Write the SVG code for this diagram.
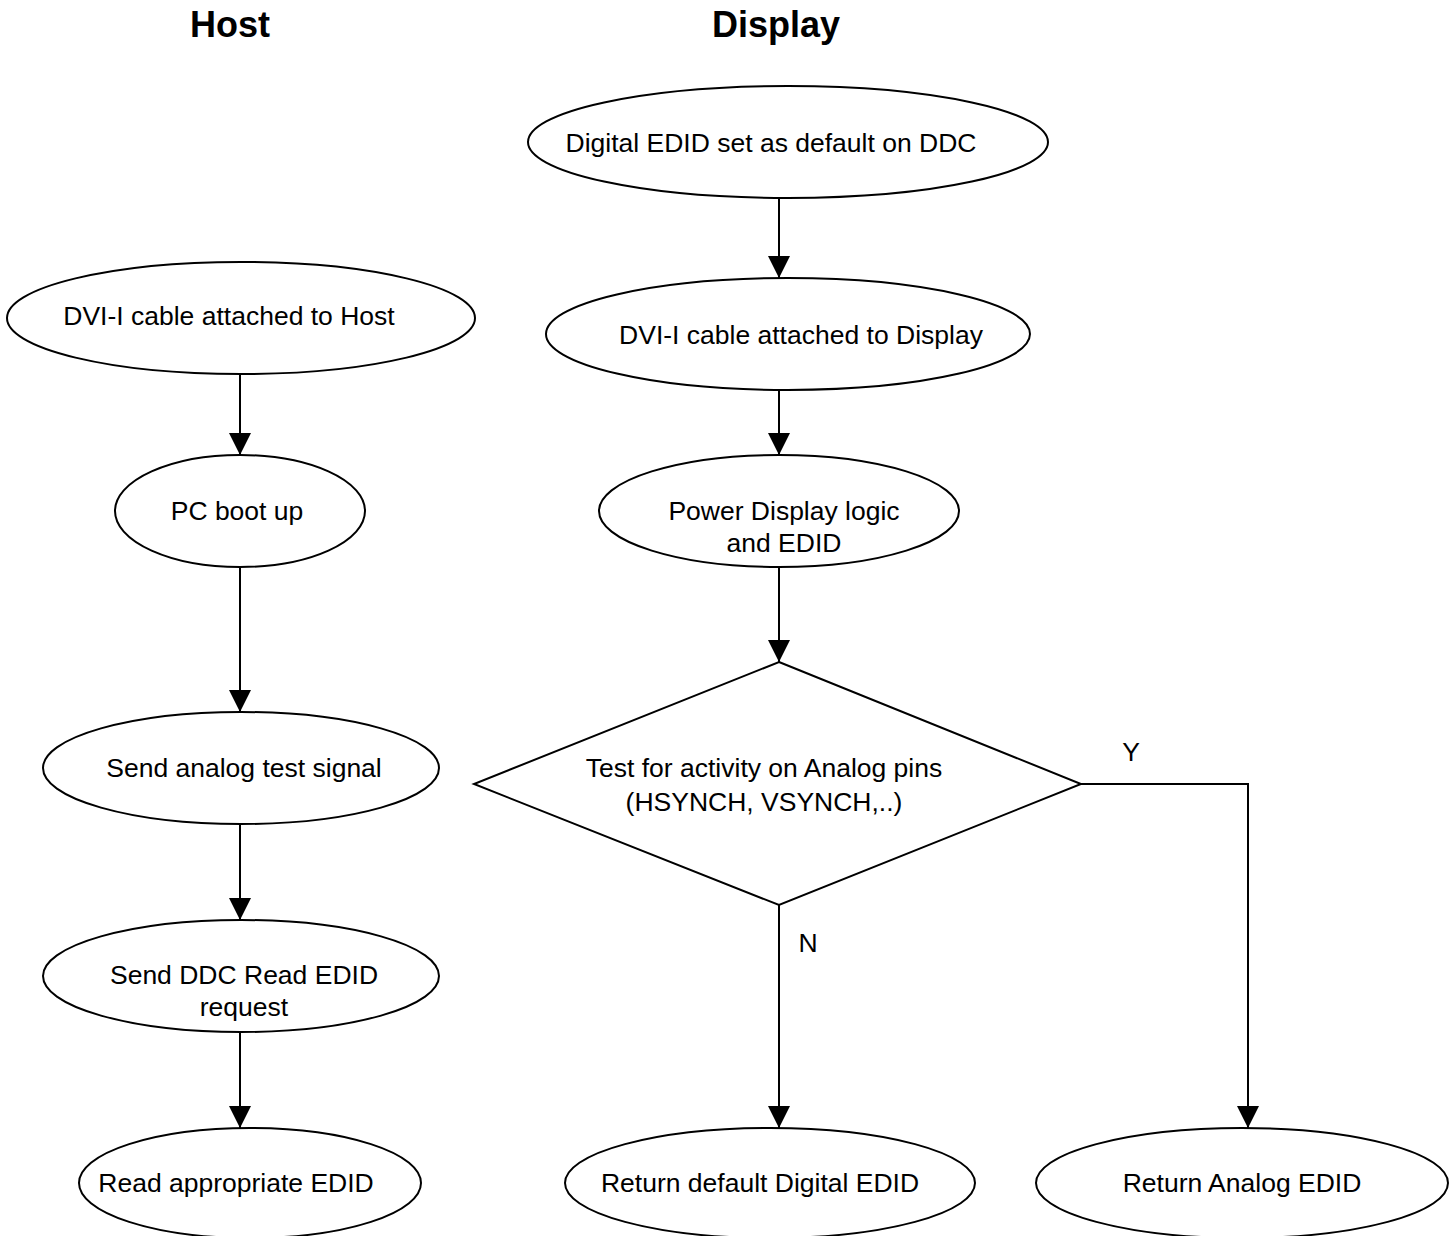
<svg xmlns="http://www.w3.org/2000/svg" width="1455" height="1236" viewBox="0 0 1455 1236">
<defs>
<style>
.n{fill:#fff;stroke:#000;stroke-width:2}
.t{font-family:"Liberation Sans",Arial,sans-serif;font-size:26.5px;fill:#000;text-anchor:middle}
.h{font-family:"Liberation Sans",Arial,sans-serif;font-size:36px;font-weight:bold;fill:#000;text-anchor:middle}
.c{fill:none;stroke:#000;stroke-width:2}
</style>
<marker id="ah" markerUnits="userSpaceOnUse" markerWidth="22" markerHeight="22" refX="20" refY="10" orient="auto" viewBox="0 0 20 20">
<path d="M0,0 L20,10 L0,20 z" fill="#000"/>
</marker>
</defs>
<rect width="1455" height="1236" fill="#fff"/>
<text class="h" x="230" y="37">Host</text>
<text class="h" x="776" y="37">Display</text>
<g id="connectors">
<line class="c" x1="240" y1="374" x2="240" y2="455" marker-end="url(#ah)"/>
<line class="c" x1="240" y1="567" x2="240" y2="712" marker-end="url(#ah)"/>
<line class="c" x1="240" y1="824" x2="240" y2="920" marker-end="url(#ah)"/>
<line class="c" x1="240" y1="1032" x2="240" y2="1128" marker-end="url(#ah)"/>
<line class="c" x1="779" y1="198" x2="779" y2="278" marker-end="url(#ah)"/>
<line class="c" x1="779" y1="390" x2="779" y2="455" marker-end="url(#ah)"/>
<line class="c" x1="779" y1="567" x2="779" y2="662" marker-end="url(#ah)"/>
<line class="c" x1="779" y1="905" x2="779" y2="1128" marker-end="url(#ah)"/>
<polyline class="c" points="1081,784 1248,784 1248,1128" marker-end="url(#ah)"/>
<text class="t" x="1131" y="761">Y</text>
<text class="t" x="808" y="952">N</text>
</g>
<g id="digital-default">
<ellipse class="n" cx="788" cy="142" rx="260" ry="56"/>
<text class="t" x="771" y="152">Digital EDID set as default on DDC</text>
</g>
<g id="host-cable">
<ellipse class="n" cx="241" cy="318" rx="234" ry="56"/>
<text class="t" x="229" y="325">DVI-I cable attached to Host</text>
</g>
<g id="display-cable">
<ellipse class="n" cx="788" cy="334" rx="242" ry="56"/>
<text class="t" x="801" y="344">DVI-I cable attached to Display</text>
</g>
<g id="pc-boot">
<ellipse class="n" cx="240" cy="511" rx="125" ry="56"/>
<text class="t" x="237" y="520">PC boot up</text>
</g>
<g id="power-display">
<ellipse class="n" cx="779" cy="511" rx="180" ry="56"/>
<text class="t" x="784" y="520">Power Display logic</text>
<text class="t" x="784" y="552">and EDID</text>
</g>
<g id="test-analog">
<polygon class="n" points="779,662 1081,784 779,905 474,784"/>
<text class="t" x="764" y="777">Test for activity on Analog pins</text>
<text class="t" x="764" y="811">(HSYNCH, VSYNCH,..)</text>
</g>
<g id="send-analog">
<ellipse class="n" cx="241" cy="768" rx="198" ry="56"/>
<text class="t" x="244" y="777">Send analog test signal</text>
</g>
<g id="send-ddc">
<ellipse class="n" cx="241" cy="976" rx="198" ry="56"/>
<text class="t" x="244" y="984">Send DDC Read EDID</text>
<text class="t" x="244" y="1016">request</text>
</g>
<g id="read-edid">
<ellipse class="n" cx="250" cy="1183" rx="171" ry="55"/>
<text class="t" x="236" y="1192">Read appropriate EDID</text>
</g>
<g id="return-digital">
<ellipse class="n" cx="770" cy="1183" rx="205" ry="55"/>
<text class="t" x="760" y="1192">Return default Digital EDID</text>
</g>
<g id="return-analog">
<ellipse class="n" cx="1242" cy="1183" rx="206" ry="55"/>
<text class="t" x="1242" y="1192">Return Analog EDID</text>
</g>
</svg>
